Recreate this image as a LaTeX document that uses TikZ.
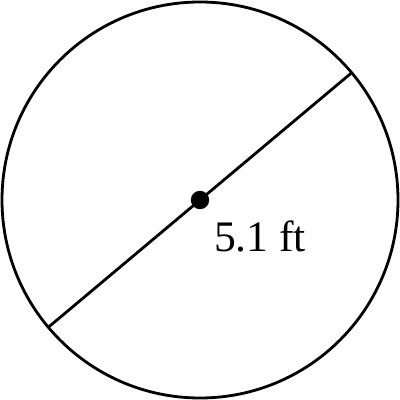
\documentclass[tikz,border=0pt]{standalone}
\usepackage{fontspec}
\setmainfont{Liberation Serif}
\begin{document}
\begin{tikzpicture}[
    rim/.style   = {line width=2pt},
    dot/.style   = {circle, fill, inner sep=0pt, minimum size=4.6mm},
    label/.style = {font=\fontsize{31}{35}\selectfont},
]
\useasboundingbox (-5,-5) rectangle (5,5);

% circle and diameter
\node[circle, draw, rim, minimum size=9.9cm, inner sep=0pt] (disc) at (0,0) {};
\coordinate (p1) at (220:4.95);
\coordinate (p2) at (40:4.95);
\draw[rim] (p1) -- (p2);
\node[dot] (ctr) at (0,0) {};

\node[label] (len) at (1.5,-0.9) {5.1 ft};
\end{tikzpicture}
\end{document}
